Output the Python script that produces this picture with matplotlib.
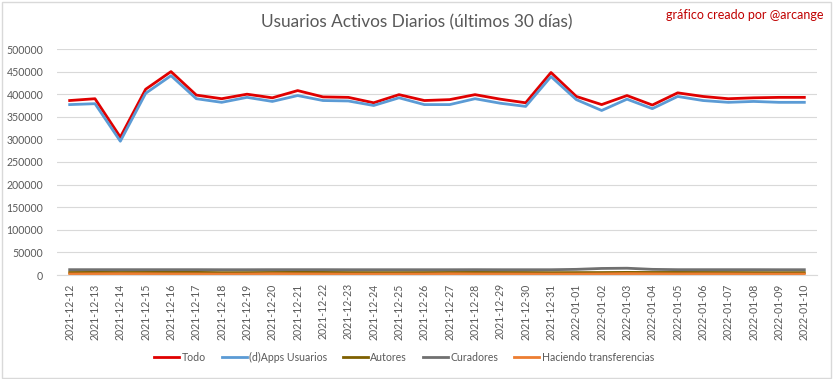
import matplotlib
matplotlib.use('Agg')
from matplotlib import pyplot as plt
from matplotlib.patches import Rectangle
import numpy as np
import datetime

# daily labels, 2021-12-12 .. 2022-01-10
start = datetime.date(2021, 12, 12)
dates = [(start + datetime.timedelta(days=i)).isoformat() for i in range(30)]

todo = [386000, 390000, 305000, 411000, 450000, 398000, 390000, 400000,
        392000, 408000, 394000, 393000, 381000, 399000, 386000, 388000,
        399000, 389000, 381000, 448000, 395000, 377000, 397000, 376000,
        403000, 395000, 390000, 392000, 393000, 393000]
dapps = [377000, 379000, 296000, 402000, 441000, 390000, 382000, 393000,
         384000, 397000, 386000, 385000, 375000, 392000, 377000, 377000,
         390000, 380000, 373000, 439000, 388000, 364000, 389000, 368000,
         395000, 386000, 382000, 384000, 382000, 382000]
autores = [5500, 5800, 5600, 5700, 5900, 5800, 5200, 5300, 5600, 5800,
           5700, 5400, 5300, 5300, 5400, 5600, 5700, 5600, 5500, 5200,
           5300, 5400, 5800, 5600, 5700, 5600, 5500, 5300, 5200, 5300]
curadores = [11800, 11800, 11800, 11800, 11800, 11800, 11700, 11700,
             11800, 11800, 11800, 11700, 11700, 11700, 11700, 11700,
             11800, 11700, 11700, 11700, 12500, 14500, 15000, 12500,
             11800, 11800, 11800, 11800, 11700, 11700]
transf = [2200, 2600, 2800, 2700, 2400, 2300, 2000, 2100, 2800, 2500,
          2300, 2000, 2000, 2100, 2100, 2700, 2400, 2300, 2200, 2000,
          2100, 2300, 3000, 2600, 2400, 2500, 2400, 2100, 2000, 2100]

series = [
    ('Todo', todo, '#e00000'),
    ('(d)Apps Usuarios', dapps, '#5b9bd5'),
    ('Autores', autores, '#7f6000'),
    ('Curadores', curadores, '#707070'),
    ('Haciendo transferencias', transf, '#ed7d31'),
]

plt.rcParams['font.family'] = ['Lato', 'DejaVu Sans']

fig = plt.figure(figsize=(8.33, 3.79), dpi=100)
ax = fig.add_axes([57 / 833, 1 - 275 / 379, (817 - 57) / 833, (275 - 49) / 379])

x = np.arange(len(dates))
for name, vals, col in series:
    ax.plot(x, vals, color=col, lw=2, label=name, solid_joinstyle='round')

ax.set_xlim(-0.5, len(dates) - 0.5)
ax.set_ylim(0, 500000)
ax.set_yticks(np.arange(0, 500001, 50000))
ax.yaxis.set_major_formatter(matplotlib.ticker.FuncFormatter(lambda v, p: '%d' % v))
ax.set_xticks(x)
ax.set_xticklabels(dates, rotation=90)
ax.tick_params(axis='both', colors='#595959', labelsize=7.6, length=0)
ax.tick_params(axis='y', pad=10)
ax.tick_params(axis='x', pad=6)
ax.grid(axis='y', color='#d9d9d9', lw=0.8)
ax.set_axisbelow(True)
for s in ['top', 'right', 'left']:
    ax.spines[s].set_visible(False)
ax.spines['bottom'].set_color('#d9d9d9')

fig.text(0.5, 1 - 22 / 379, 'Usuarios Activos Diarios (últimos 30 días)',
         ha='center', va='center', fontsize=12.4, color='#595959')
fig.text(823 / 833, 1 - 15 / 379, 'gráfico creado por @arcange',
         ha='right', va='center', fontsize=9, color='#c00000')

fig.legend(loc='center', bbox_to_anchor=(0.485, 1 - 357 / 379), ncol=5,
           frameon=False, fontsize=7.6, labelcolor='#595959',
           handlelength=2.4, handletextpad=0.2, columnspacing=1.5)

fig.patches.append(Rectangle((0.002, 0.003), 0.995, 0.993, transform=fig.transFigure,
                             fill=False, edgecolor='#d9d9d9', lw=1))

fig.savefig('out.png', dpi=100)
